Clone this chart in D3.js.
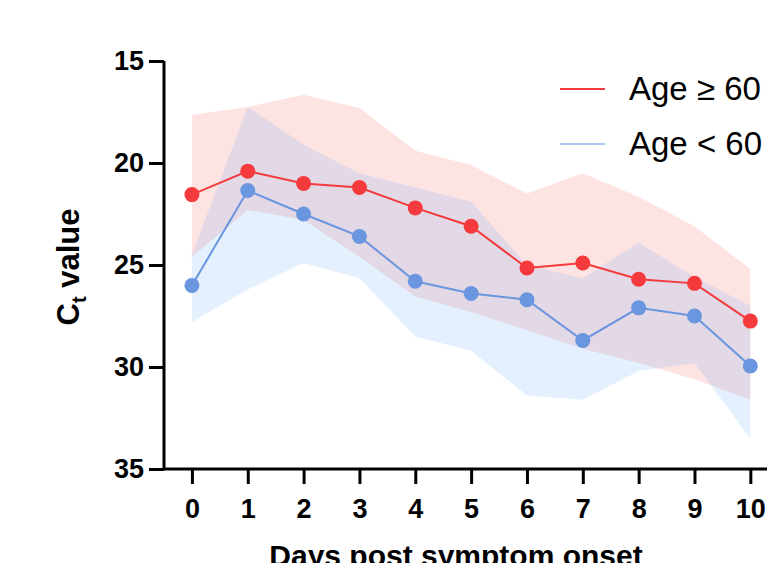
<!DOCTYPE html>
<html>
<head>
<meta charset="utf-8">
<script src="https://cdn.jsdelivr.net/npm/d3@7"></script>
<style>
  body { margin: 0; background: white; }
  text { font-family: 'Liberation Sans', Arial, sans-serif; }
</style>
</head>
<body>
<svg id="chart"></svg>
<script>
// days post symptom onset
let days = [0, 1, 2, 3, 4, 5, 6, 7, 8, 9, 10]

// Age >= 60 : median Ct and band
let oldMid = [21.55, 20.4, 21.0, 21.2, 22.2, 23.1, 25.15, 24.9, 25.7, 25.9, 27.75]
let oldHigh = [17.65, 17.25, 16.65, 17.3, 19.4, 20.1, 21.5, 20.5, 21.65, 23.1, 25.2]
let oldLow = [24.6, 22.3, 22.8, 24.6, 26.55, 27.3, 28.2, 29.1, 29.8, 30.6, 31.6]

// Age < 60
let youngMid = [26.0, 21.35, 22.5, 23.6, 25.8, 26.4, 26.7, 28.7, 27.1, 27.5, 29.95]
let youngHigh = [24.5, 17.25, 19.1, 20.5, 21.2, 21.9, 25.0, 25.65, 23.9, 25.6, 27.0]
let youngLow = [27.8, 26.2, 24.9, 25.65, 28.5, 29.2, 31.4, 31.6, 30.2, 29.8, 33.5]

let yTicks = [15, 20, 25, 30, 35]

const redColor = '#f43a3c'
const blueColor = '#6a95df'

let width = 767,
    height = 563

let $svg = d3.select('#chart')
    .attr('width', width)
    .attr('height', height)

let scaleX = d3.scaleLinear().domain([-0.5, 10.8]).range([164, 795])
let scaleY = d3.scaleLinear().domain([15, 35]).range([61, 469])

function band(hi, lo) {
    return d3.area()
        .x((d, i) => scaleX(days[i]))
        .y0((d, i) => scaleY(lo[i]))
        .y1((d, i) => scaleY(hi[i]))(days)
}

$svg.append('path')
    .attr('d', band(oldHigh, oldLow))
    .attr('fill', '#f85050')
    .attr('fill-opacity', 0.16)

$svg.append('path')
    .attr('d', band(youngHigh, youngLow))
    .attr('fill', '#5a9ff0')
    .attr('fill-opacity', 0.16)

let lineFunction = d3.line()
    .x((d, i) => scaleX(days[i]))
    .y(d => scaleY(d))

function drawSeries(values, color) {
    $svg.append('path')
        .attr('d', lineFunction(values))
        .attr('stroke', color)
        .attr('stroke-width', 2)
        .attr('fill', 'none')
    $svg.append('g').selectAll('circle')
        .data(values)
        .enter().append('circle')
        .attr('cx', (d, i) => scaleX(days[i]))
        .attr('cy', d => scaleY(d))
        .attr('r', 7.5)
        .attr('fill', color)
}

drawSeries(youngMid, blueColor)
drawSeries(oldMid, redColor)

// axes
let yAxis = $svg.append('g')
    .attr('transform', 'translate(164,0)')
    .call(d3.axisLeft(scaleY).tickValues(yTicks).tickSize(15).tickPadding(5))
let xAxis = $svg.append('g')
    .attr('transform', 'translate(0,469)')
    .call(d3.axisBottom(scaleX).tickValues(days).tickSize(15).tickPadding(15))

for (let ax of [yAxis, xAxis]) {
    ax.select('.domain').attr('stroke', 'black').attr('stroke-width', 3)
    ax.selectAll('.tick line').attr('stroke', 'black').attr('stroke-width', 3)
    ax.selectAll('.tick text')
        .attr('fill', 'black')
        .attr('font-size', '27px')
        .attr('font-weight', 'bold')
        .attr('font-family', "'Liberation Sans', Arial, sans-serif")
}
yAxis.select('.domain').attr('d', 'M0,' + scaleY(15) + 'V' + scaleY(35))
xAxis.select('.domain').attr('d', 'M164,0H' + width)

// axis titles
let yTitle = $svg.append('text')
    .attr('transform', 'translate(79,267) rotate(-90)')
    .attr('text-anchor', 'middle')
    .attr('font-size', '31px')
    .attr('font-weight', 'bold')
yTitle.append('tspan').text('C')
yTitle.append('tspan').text('t').attr('font-size', '20px').attr('dy', 7)
yTitle.append('tspan').text(' value').attr('dy', -7)

// the title sits at the bottom edge, partly cut as in the original figure
$svg.append('text')
    .attr('x', 456)
    .attr('y', 566)
    .attr('text-anchor', 'middle')
    .attr('font-size', '30px')
    .attr('font-weight', 'bold')
    .text('Days post symptom onset')

// legend
let legendItems = [
    {label: 'Age \u2265 60', color: redColor, y: 89},
    {label: 'Age < 60', color: '#a8c9f6', y: 144}
]
let $legend = $svg.append('g').selectAll('g')
    .data(legendItems)
    .enter().append('g')
    .attr('transform', d => 'translate(0,' + d.y + ')')
$legend.append('line')
    .attr('x1', 560).attr('x2', 605)
    .attr('stroke', d => d.color)
    .attr('stroke-width', 2)
$legend.append('text')
    .attr('x', 629)
    .attr('y', 11)
    .attr('font-size', '33px')
    .attr('fill', 'black')
    .text(d => d.label)
</script>
</body>
</html>
